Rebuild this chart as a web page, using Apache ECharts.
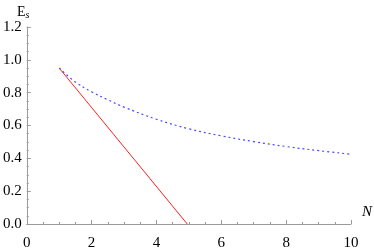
<!DOCTYPE html>
<html><head><meta charset="utf-8">
<script src="https://cdn.jsdelivr.net/npm/echarts@6/dist/echarts.min.js"></script>
<style>html,body{margin:0;padding:0;background:#fff}#c{width:374px;height:251px}</style>
</head><body><div id="c"></div>
<script>
var xTicks = [0, 2, 4, 6, 8, 10];
var yTicks = [0.0, 0.2, 0.4, 0.6, 0.8, 1.0, 1.2];
var redN = [1, 4.95];
var redE = [0.95, 0.0];
var blueN = [1, 1.5, 2, 2.5, 3, 4, 5, 6, 7, 8, 9, 10];
var blueE = [0.95, 0.865, 0.805, 0.757, 0.712, 0.638, 0.580, 0.537, 0.502, 0.472, 0.447, 0.425];

var chart = echarts.init(document.getElementById('c'), null, {renderer: 'canvas'});
var font = 'Liberation Serif';
var axisCol = '#9a9a9a';
chart.setOption({
  animation: false,
  grid: {left: 24.5, right: 23, top: 27, bottom: 22.5, containLabel: false},
  xAxis: {
    type: 'value', min: 0, max: 10, interval: 2,
    axisLine: {show: true, lineStyle: {color: axisCol, width: 1}},
    axisTick: {show: true, inside: true, length: 4, lineStyle: {color: axisCol}},
    minorTick: {show: true, splitNumber: 4, length: 2, lineStyle: {color: axisCol}},
    splitLine: {show: false},
    axisLabel: {color: '#000', fontFamily: font, fontSize: 15, margin: 12,
      formatter: function (v) { return xTicks.indexOf(v) >= 0 ? String(v) : ''; }}
  },
  yAxis: {
    type: 'value', min: 0, max: 1.2, interval: 0.2,
    axisLine: {show: true, lineStyle: {color: axisCol, width: 1}},
    axisTick: {show: true, inside: true, length: 4, lineStyle: {color: axisCol}},
    minorTick: {show: true, splitNumber: 4, length: 2, lineStyle: {color: axisCol}},
    splitLine: {show: false},
    axisLabel: {color: '#000', fontFamily: font, fontSize: 15, margin: 5,
      formatter: function (v) {
        var s = v.toFixed(1);
        return yTicks.map(function(t){return t.toFixed(1);}).indexOf(s) >= 0 ? s : '';
      }}
  },
  graphic: [
    {type: 'text', left: 17, top: 5, style: {
      text: '{e|E}{s|s}', rich: {
        e: {fontFamily: font, fontSize: 14, fill: '#000'},
        s: {fontFamily: font, fontSize: 10, fontStyle: 'italic', fill: '#000', padding: [6, 0, 0, 0]}
      }}},
    {type: 'text', left: 362, top: 205, style: {
      text: 'N', fontFamily: font, fontSize: 15, fontStyle: 'italic', fill: '#000'}}
  ],
  series: [
    {type: 'line', data: redN.map(function(n, i){return [n, redE[i]];}),
      showSymbol: false, lineStyle: {color: '#ff2020', width: 1}},
    {type: 'line', smooth: 0.4, data: blueN.map(function(n, i){return [n, blueE[i]];}),
      showSymbol: false, lineStyle: {color: '#4a4aff', width: 1.2, type: [2, 3]}}
  ]
});
</script></body></html>
